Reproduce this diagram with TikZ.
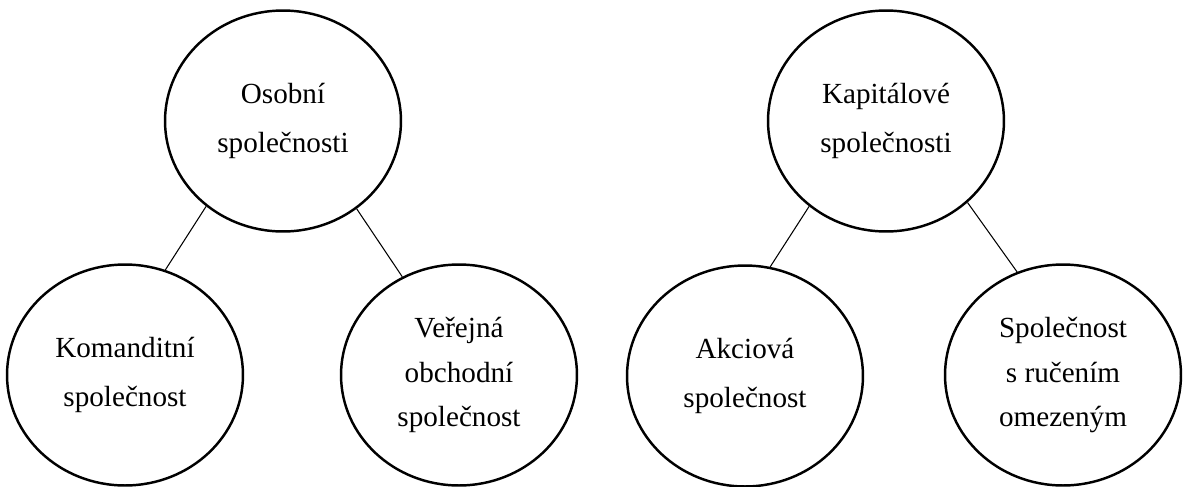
\documentclass[tikz,border=0pt]{standalone}
\usepackage{fontspec}
\setmainfont{Liberation Serif}
\usetikzlibrary{shapes.geometric}
\begin{document}
\begin{tikzpicture}[x=0.02cm,y=-0.02cm,
  circ/.style={ellipse, draw, line width=1.4pt, minimum width=4.72cm, minimum height=4.42cm,
    inner sep=0pt, align=center, font=\fontsize{16.6}{28.4}\selectfont},
  circthree/.style={circ, font=\fontsize{16.6}{25.5}\selectfont},
  link/.style={line width=0.6pt}]
\useasboundingbox (0,0) rectangle (1184,487);
\node[circ] (os) at (283,121) {Osobní\\společnosti};
\node[circ] (ko) at (125,375) {Komanditní\\společnost};
\node[circthree] (ve) at (459,375) {Veřejná\\obchodní\\společnost};
\node[circ] (ka) at (886,121) {Kapitálové\\společnosti};
\node[circ] (ak) at (745,376) {Akciová\\společnost};
\node[circthree] (sr) at (1063,375) {Společnost\\s ručením\\omezeným};
\draw[link] (os.228.5) -- (ko.69.7);
\draw[link] (os.310.8) -- (ve.120.2);
\draw[link] (ka.228.9) -- (ak.77.1);
\draw[link] (ka.315.3) -- (sr.114.3);
\end{tikzpicture}
\end{document}
